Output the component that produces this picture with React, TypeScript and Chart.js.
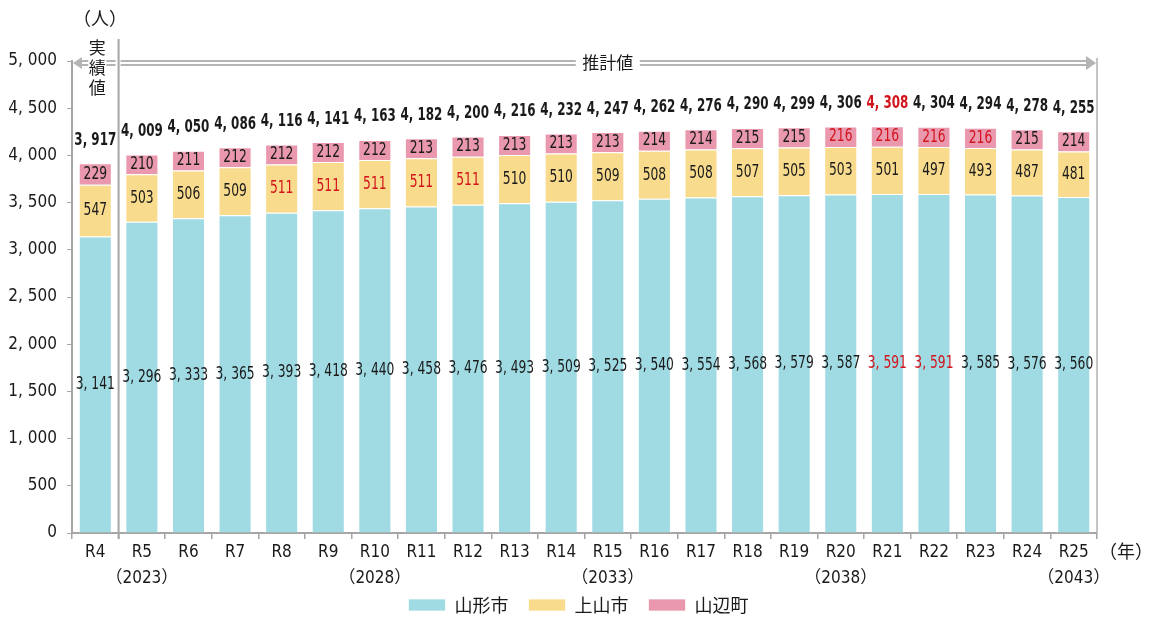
import React, { useEffect, useRef } from "react";
import { Chart, registerables } from "chart.js";

Chart.register(...registerables);

const categories: string[][] = [
  ["R4"], ["R5", "（2023）"], ["R6"], ["R7"], ["R8"], ["R9"], ["R10", "（2028）"], ["R11"], ["R12"], ["R13"], ["R14"],
  ["R15", "（2033）"], ["R16"], ["R17"], ["R18"], ["R19"], ["R20", "（2038）"], ["R21"], ["R22"], ["R23"], ["R24"], ["R25", "（2043）"],
];
const yamagata = [3141, 3296, 3333, 3365, 3393, 3418, 3440, 3458, 3476, 3493, 3509, 3525, 3540, 3554, 3568, 3579, 3587, 3591, 3591, 3585, 3576, 3560];
const kaminoyama = [547, 503, 506, 509, 511, 511, 511, 511, 511, 510, 510, 509, 508, 508, 507, 505, 503, 501, 497, 493, 487, 481];
const yamanobe = [229, 210, 211, 212, 212, 212, 212, 213, 213, 213, 213, 213, 214, 214, 215, 215, 216, 216, 216, 216, 215, 214];
const totals = [3917, 4009, 4050, 4086, 4116, 4141, 4163, 4182, 4200, 4216, 4232, 4247, 4262, 4276, 4290, 4299, 4306, 4308, 4304, 4294, 4278, 4255];
const seriesNames = ["山形市", "上山市", "山辺町"];
// indices highlighted in red (maximum values)
const redYamagata = [17, 18];
const redKaminoyama = [4, 5, 6, 7, 8];
const redYamanobe = [16, 17, 18, 19];
const redTotals = [17];

const FONT = "'DejaVu Sans Condensed', 'Noto Sans CJK JP', sans-serif";
const RED = "#d2141c";
const TXT = "#1a1a1a";

const fmt = (v: number) => (v >= 1000 ? `${Math.floor(v / 1000)}, ${String(v % 1000).padStart(3, "0")}` : String(v));

const narrowText = (ctx: any, text: string, x: number, y: number, sx: number) => {
  ctx.save();
  ctx.translate(x, y);
  ctx.scale(sx, 1);
  ctx.fillText(text, 0, 0);
  ctx.restore();
};

const legendShift = {
  id: "legendShift",
  afterLayout(chart: any) {
    const lg = chart.legend;
    if (lg) {
      lg.top -= 18;
      lg.bottom -= 18;
      lg.left += 30;
      lg.right += 30;
    }
  },
};

const overlay = {
  id: "overlay",
  afterDatasetsDraw(chart: any) {
    const ctx = chart.ctx;
    const xs = chart.scales.x;
    const area = chart.chartArea;
    const reds = [redYamagata, redKaminoyama, redYamanobe];
    ctx.save();
    ctx.textAlign = "center";
    ctx.textBaseline = "middle";
    chart.data.datasets.forEach((ds: any, di: number) => {
      const meta = chart.getDatasetMeta(di);
      meta.data.forEach((el: any, i: number) => {
        const v = ds.data[i];
        ctx.font = `18px ${FONT}`;
        ctx.fillStyle = reds[di].includes(i) ? RED : TXT;
        narrowText(ctx, fmt(v), el.x, (el.y + el.base) / 2, 0.76);
      });
    });
    const top = chart.getDatasetMeta(2);
    top.data.forEach((el: any, i: number) => {
      ctx.font = `bold 17px ${FONT}`;
      ctx.fillStyle = redTotals.includes(i) ? RED : TXT;
      narrowText(ctx, fmt(totals[i]), el.x, el.y - 23, 0.78);
    });

    // divider between actual and estimate
    const divX = (xs.getPixelForValue(0) + xs.getPixelForValue(1)) / 2;
    ctx.strokeStyle = "#a6a6a6";
    ctx.lineWidth = 2;
    ctx.beginPath();
    ctx.moveTo(divX, 39);
    ctx.lineTo(divX, area.bottom + 6);
    ctx.stroke();
    // right border
    ctx.lineWidth = 1.5;
    ctx.strokeStyle = "#b0b0b0";
    ctx.beginPath();
    ctx.moveTo(area.right, area.top - 3);
    ctx.lineTo(area.right, area.bottom);
    ctx.stroke();

    // arrows
    const ay = area.top + 2;
    const drawDouble = (x1: number, x2: number) => {
      ctx.strokeStyle = "#b4b4b4";
      ctx.lineWidth = 2;
      ctx.beginPath();
      ctx.moveTo(x1, ay - 2);
      ctx.lineTo(x2, ay - 2);
      ctx.moveTo(x1, ay + 2);
      ctx.lineTo(x2, ay + 2);
      ctx.stroke();
    };
    ctx.fillStyle = "#b4b4b4";
    drawDouble(area.left + 8, divX - 3);
    ctx.beginPath();
    ctx.moveTo(area.left + 1, ay);
    ctx.lineTo(area.left + 10, ay - 6);
    ctx.lineTo(area.left + 10, ay + 6);
    ctx.closePath();
    ctx.fill();
    drawDouble(divX + 2, area.right - 10);
    ctx.beginPath();
    ctx.moveTo(area.right - 1, ay);
    ctx.lineTo(area.right - 11, ay - 7);
    ctx.lineTo(area.right - 11, ay + 7);
    ctx.closePath();
    ctx.fill();

    // labels on arrows
    const lx = (area.left + divX) / 2 + 2;
    ctx.fillStyle = "#ffffff";
    ctx.fillRect(lx - 9, 38, 18, 62);
    ctx.fillStyle = TXT;
    ctx.font = `17px 'Noto Sans CJK JP', sans-serif`;
    ["実", "績", "値"].forEach((c, k) => ctx.fillText(c, lx, 48 + k * 20));
    const rx = (divX + area.right) / 2;
    ctx.fillStyle = "#ffffff";
    ctx.fillRect(rx - 32, ay - 9, 64, 18);
    ctx.fillStyle = TXT;
    ctx.fillText("推計値", rx, ay);

    // axis titles
    ctx.font = `18px 'Noto Sans CJK JP', sans-serif`;
    ctx.fillText("（人）", 100, 18);
    ctx.fillText("（年）", 1126, 551);
    ctx.restore();
  },
};

export default function App() {
  const ref = useRef<HTMLCanvasElement | null>(null);
  useEffect(() => {
    if (!ref.current) return;
    const mk = (label: string, data: number[], color: string) => ({
      label,
      data,
      backgroundColor: color,
      borderColor: "rgba(255,255,255,0.7)",
      borderWidth: 1,
      barPercentage: 0.71,
      categoryPercentage: 1,
    });
    const chart = new Chart(ref.current, {
      type: "bar",
      data: {
        labels: categories,
        datasets: [
          mk(seriesNames[0], yamagata, "#a0dbe4"),
          mk(seriesNames[1], kaminoyama, "#f8db8d"),
          mk(seriesNames[2], yamanobe, "#e998ae"),
        ],
      },
      options: {
        animation: false,
        responsive: true,
        maintainAspectRatio: false,
        layout: { padding: { top: 61, right: 52, left: 0, bottom: -25 } },
        plugins: {
          tooltip: { enabled: false },
          legend: {
            position: "bottom",
            labels: {
              boxWidth: 37,
              boxHeight: 12,
              padding: 20,
              color: TXT,
              font: { size: 18, family: "'Noto Sans CJK JP', sans-serif" },
            },
          },
        },
        scales: {
          x: {
            stacked: true,
            offset: true,
            grid: { drawOnChartArea: false, color: "#a6a6a6", tickLength: 6, offset: true, lineWidth: 1.5 },
            border: { color: "#a6a6a6", width: 2 },
            ticks: { color: TXT, padding: 0, maxRotation: 0, autoSkip: false, font: { size: 17, family: FONT, lineHeight: 1.55 } },
            afterFit: (s: any) => { s.height = 61; },
          },
          y: {
            stacked: true,
            min: 0,
            max: 5000,
            grid: { drawOnChartArea: false, color: "#a6a6a6", tickLength: 5 },
            border: { color: "#a6a6a6", width: 2 },
            ticks: { stepSize: 500, color: TXT, padding: 10, font: { size: 17, family: FONT }, callback: (v: any) => fmt(Number(v)) },
            afterFit: (s: any) => { s.width = 72; },
          },
        },
      },
      plugins: [overlay, legendShift],
    });
    return () => chart.destroy();
  }, []);
  return (
    <div style={{ position: "absolute", left: 0, top: 0, width: 1149, height: 617, background: "#fff" }}>
      <canvas ref={ref} style={{ width: "100%", height: "100%" }} />
    </div>
  );
}
